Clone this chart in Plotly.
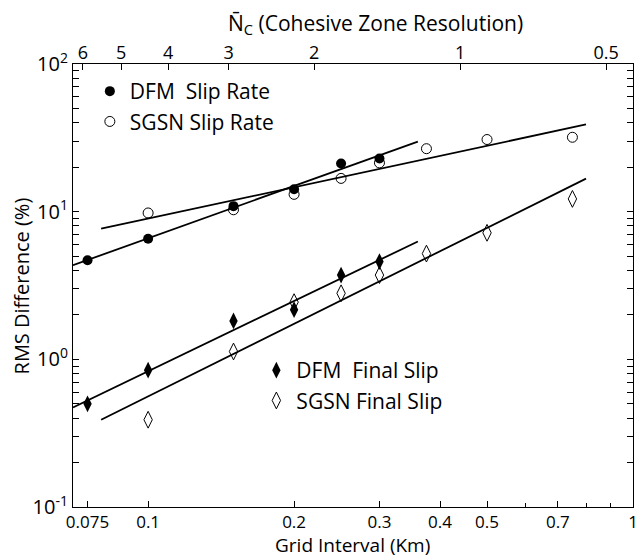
import numpy as np
import plotly.graph_objects as go

# ---- data ----
dfm_rate_x = [0.075, 0.1, 0.15, 0.2, 0.25, 0.3]
dfm_rate_y = [4.69, 6.56, 10.9, 14.2, 21.2, 22.9]

sgsn_rate_x = [0.1, 0.15, 0.2, 0.25, 0.3, 0.375, 0.5, 0.75]
sgsn_rate_y = [9.8, 10.3, 13.1, 16.8, 21.4, 26.7, 30.8, 31.9]

dfm_slip_x = [0.075, 0.1, 0.15, 0.2, 0.25, 0.3]
dfm_slip_y = [0.50, 0.844, 1.82, 2.17, 3.72, 4.59]

sgsn_slip_x = [0.1, 0.15, 0.2, 0.25, 0.3, 0.375, 0.5, 0.75]
sgsn_slip_y = [0.39, 1.13, 2.44, 2.80, 3.72, 5.20, 7.19, 12.2]

# extent of the power-law fit lines
dfm_fit_range = [0.07, 0.36]
sgsn_fit_range = [0.08, 0.8]

# bottom axis ticks
x_tickvals = [0.075, 0.1, 0.2, 0.3, 0.4, 0.5, 0.7, 1]
x_ticktext = ["0.075", "0.1", "0.2", "0.3", "0.4", "0.5", "0.7", "1"]
x_minor = [0.6, 0.8, 0.9]
# top axis: cohesive zone resolution, Nc = NC_CONST / dx
nc_ticks = [6, 5, 4, 3, 2, 1, 0.5]
NC_CONST = 0.44
y_tickvals = [0.1, 1, 10, 100]
y_ticktext = ["10<sup>-1</sup>", "10<sup>0</sup>", "10<sup>1</sup>", "10<sup>2</sup>"]

FONT = "Open Sans"
fig = go.Figure()


def fit_line(xs, ys, xr):
    p = np.polyfit(np.log10(xs), np.log10(ys), 1)
    xx = np.geomspace(xr[0], xr[1], 30)
    return xx, 10 ** np.polyval(p, np.log10(xx))


for xs, ys, xr in [(dfm_rate_x, dfm_rate_y, dfm_fit_range),
                   (sgsn_rate_x, sgsn_rate_y, sgsn_fit_range),
                   (dfm_slip_x, dfm_slip_y, dfm_fit_range),
                   (sgsn_slip_x, sgsn_slip_y, sgsn_fit_range)]:
    lx, ly = fit_line(xs, ys, xr)
    fig.add_trace(go.Scatter(x=lx, y=ly, mode="lines", line=dict(color="black", width=1.8),
                             showlegend=False, hoverinfo="skip"))

fig.add_trace(go.Scatter(x=dfm_rate_x, y=dfm_rate_y, mode="markers", name="DFM\u00a0\u00a0Slip Rate",
                         marker=dict(symbol="circle", size=10, color="black"), legend="legend"))
fig.add_trace(go.Scatter(x=sgsn_rate_x, y=sgsn_rate_y, mode="markers", name="SGSN Slip Rate",
                         marker=dict(symbol="circle-open", size=10, color="black", line=dict(width=1)),
                         legend="legend"))
fig.add_trace(go.Scatter(x=dfm_slip_x, y=dfm_slip_y, mode="markers", name="DFM\u00a0\u00a0Final Slip",
                         marker=dict(symbol="diamond-tall", size=12, color="black"), legend="legend2"))
fig.add_trace(go.Scatter(x=sgsn_slip_x, y=sgsn_slip_y, mode="markers", name="SGSN Final Slip",
                         marker=dict(symbol="diamond-tall-open", size=12, color="black", line=dict(width=1)),
                         legend="legend2"))

# invisible trace to activate top axis
fig.add_trace(go.Scatter(x=[NC_CONST / n for n in nc_ticks], y=[1] * len(nc_ticks), xaxis="x2",
                         mode="markers", marker=dict(opacity=0), showlegend=False, hoverinfo="skip"))

W, H = 644, 559
L, R, T, B = 73, 6, 64, 52
pw, ph = W - L - R, H - T - B


def px(xp):
    return (xp - L) / pw


def py(yp):
    return (H - B - yp) / ph


xr = [np.log10(0.07), 0]
fig.update_layout(
    width=W, height=H, margin=dict(l=L, r=R, t=T, b=B),
    paper_bgcolor="white", plot_bgcolor="white",
    font=dict(family=FONT, size=18, color="black"),
    xaxis=dict(type="log", range=xr, tickmode="array", tickvals=x_tickvals, ticktext=x_ticktext,
               ticks="inside", ticklen=6, tickcolor="black", showgrid=False, zeroline=False,
               showline=True, linecolor="black", linewidth=1, mirror=True,
               tickfont=dict(size=17), ticklabelstandoff=0,
               minor=dict(tickmode="array", tickvals=x_minor, ticks="inside", ticklen=4,
                          tickcolor="black", showgrid=False)),
    xaxis2=dict(type="log", range=xr, overlaying="x", side="top", tickmode="array",
                tickvals=[NC_CONST / n for n in nc_ticks], ticktext=[str(n) for n in nc_ticks],
                ticks="inside", ticklen=6, tickcolor="black", showgrid=False, zeroline=False,
                showline=False, tickfont=dict(size=18), ticklabelstandoff=0),
    yaxis=dict(type="log", range=[-1, 2], tickmode="array", tickvals=y_tickvals, ticktext=y_ticktext,
               ticks="inside", ticklen=6, tickcolor="black", showgrid=False, zeroline=False,
               showline=True, linecolor="black", linewidth=1, mirror="allticks",
               tickfont=dict(size=20),
               minor=dict(tickmode="array",
                          tickvals=[m * 10.0 ** d for d in (-1, 0, 1) for m in range(2, 10)],
                          ticks="inside", ticklen=3, tickcolor="black", showgrid=False)),
    legend=dict(x=px(90), y=py(71), xanchor="left", yanchor="top", bgcolor="rgba(0,0,0,0)",
                font=dict(size=21), itemwidth=30, tracegroupgap=0),
    legend2=dict(x=px(258), y=py(350), xanchor="left", yanchor="top", bgcolor="rgba(0,0,0,0)",
                 font=dict(size=21), itemwidth=30, tracegroupgap=0),
    showlegend=True,
    annotations=[
        dict(text="Grid Interval (Km)", xref="paper", yref="paper", x=px(355), y=py(560),
             showarrow=False, font=dict(size=19), xanchor="center", yanchor="bottom"),
        dict(text="RMS Difference (%)", xref="paper", yref="paper", x=px(21), y=py(286),
             showarrow=False, font=dict(size=20), textangle=-90, xanchor="center", yanchor="middle"),
        dict(text="N\u0304<sub>C</sub> (Cohesive Zone Resolution)", xref="paper", yref="paper",
             x=px(378), y=py(24), showarrow=False, font=dict(size=21), xanchor="center", yanchor="middle"),
    ],
)

fig.write_html("out.html")
